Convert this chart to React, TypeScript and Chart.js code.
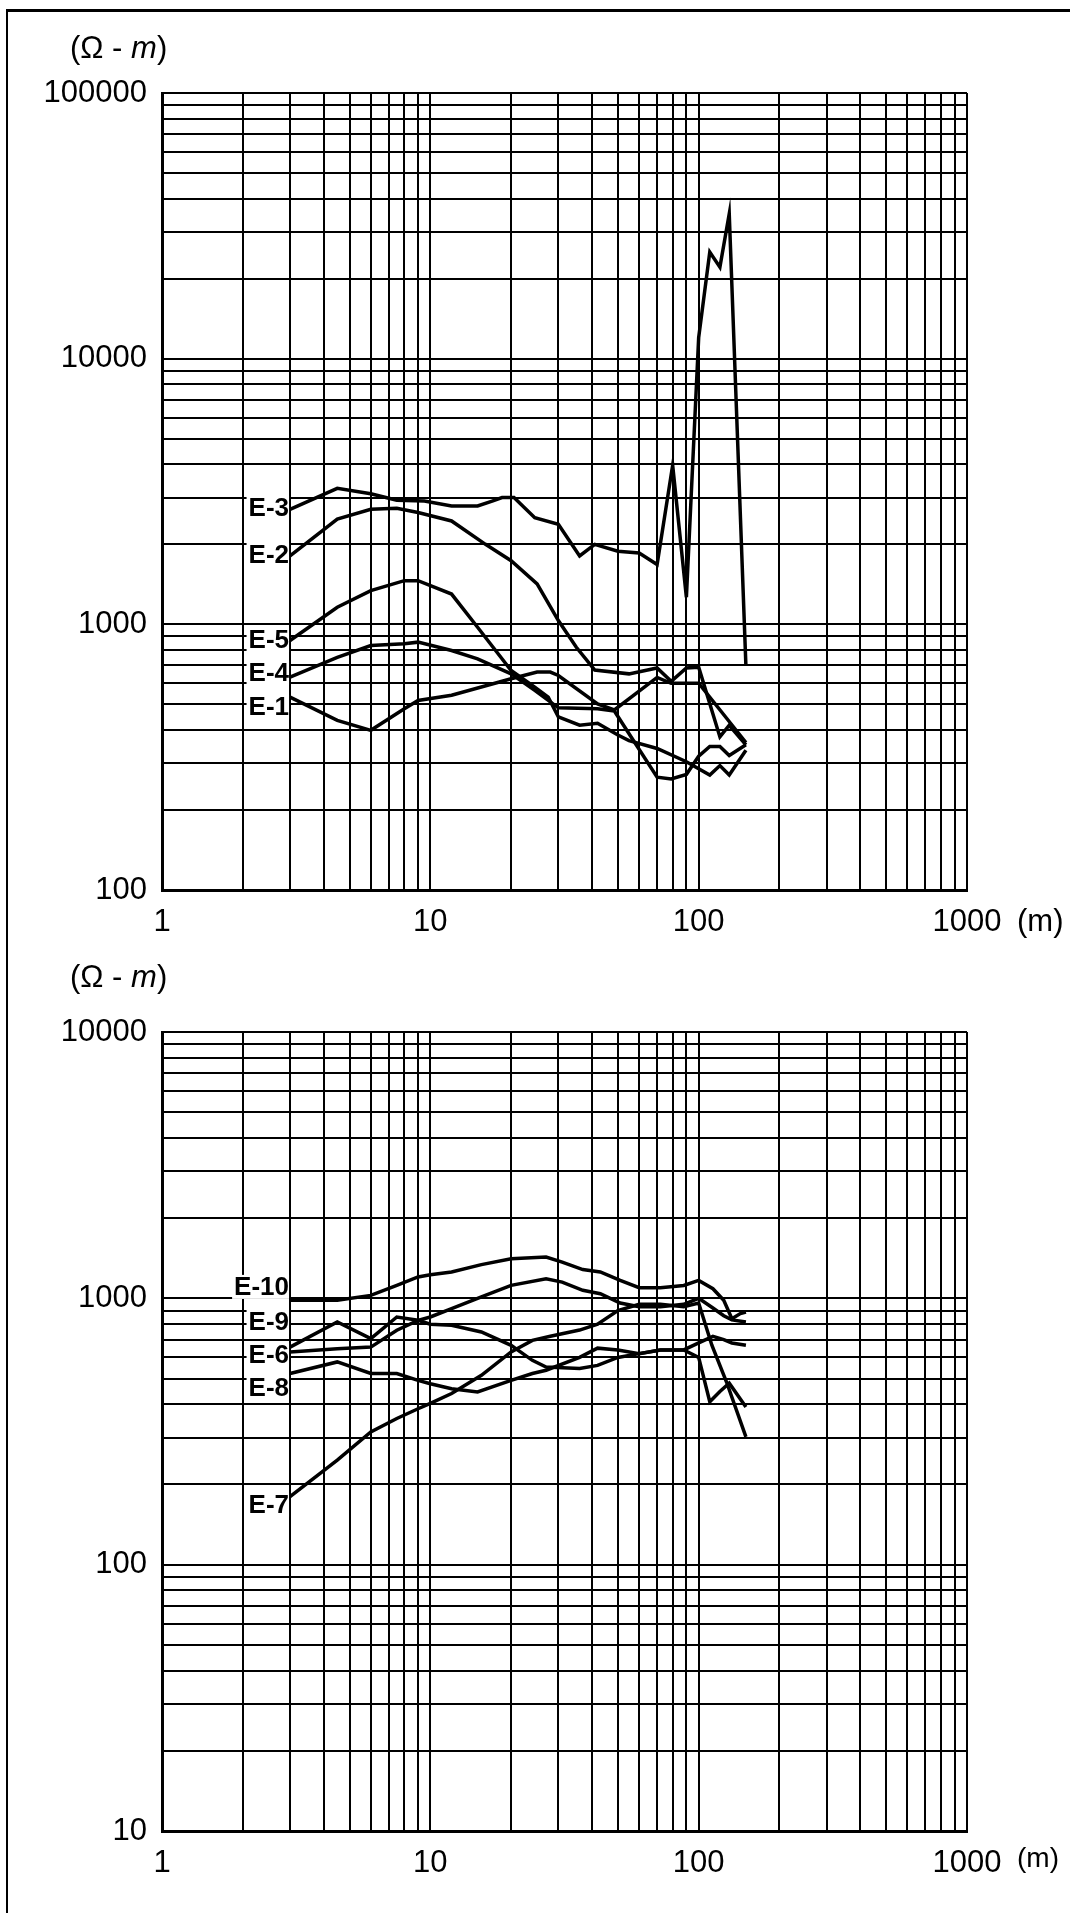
import React, { useEffect, useRef } from "react";
import { Chart, registerables } from "chart.js";

Chart.register(...registerables);

const FONT = "'Liberation Sans', Arial, Helvetica, sans-serif";

// ---------- axis ticks ----------
const xGrid = [1, 2, 3, 4, 5, 6, 7, 8, 9, 10, 20, 30, 40, 50, 60, 70, 80, 90, 100, 200, 300, 400, 500, 600, 700, 800, 900, 1000];
const xLabels = [1, 10, 100, 1000];
const yGridTop = [100, 200, 300, 400, 500, 600, 700, 800, 900, 1000, 2000, 3000, 4000, 5000, 6000, 7000, 8000, 9000, 10000, 20000, 30000, 40000, 50000, 60000, 70000, 80000, 90000, 100000];
const yLabelsTop = [100, 1000, 10000, 100000];
const yGridBottom = [10, 20, 30, 40, 50, 60, 70, 80, 90, 100, 200, 300, 400, 500, 600, 700, 800, 900, 1000, 2000, 3000, 4000, 5000, 6000, 7000, 8000, 9000, 10000];
const yLabelsBottom = [10, 100, 1000, 10000];

// ---------- top chart series (depth m, resistivity ohm-m) ----------
const e3X = [3, 4.5, 6, 7.5, 9.5, 12, 15, 17, 18.5, 20.5, 24.5, 30, 36, 41, 50, 60, 70, 80, 90, 100, 110, 120, 130, 150];
const e3Y = [2710, 3250, 3100, 2930, 2910, 2790, 2790, 2910, 3000, 3000, 2520, 2380, 1810, 2000, 1885, 1855, 1680, 3970, 1265, 12000, 25200, 22100, 35100, 697];
const e2X = [3, 4.5, 6, 7.5, 9, 12, 16, 20, 25, 30, 35, 41, 55, 70, 79, 90, 100, 120, 130, 150];
const e2Y = [1810, 2490, 2710, 2735, 2635, 2450, 2005, 1735, 1420, 1033, 820, 673, 651, 685, 610, 685, 690, 377, 417, 352];
const e5X = [3, 4.5, 6, 8, 9, 12, 15, 20, 24.5, 27.5, 30, 36, 42, 50, 55, 70, 90, 110, 120, 130, 150];
const e5Y = [869, 1160, 1340, 1460, 1460, 1300, 975, 670, 580, 532, 448, 417, 424, 383, 365, 341, 304, 271, 294, 271, 336];
const e4X = [3, 4.5, 6, 8, 9, 12, 15, 20, 24.5, 30, 42, 48.5, 70, 79, 90, 100, 110, 120, 130, 150];
const e4Y = [633, 751, 832, 845, 857, 797, 741, 651, 564, 485, 481, 472, 266, 262, 272, 319, 347, 347, 321, 352];
const e1X = [3, 4.5, 6, 8, 9, 12, 20, 25, 28, 30, 42, 48.5, 70, 79, 100, 150];
const e1Y = [532, 435, 399, 481, 517, 541, 624, 661, 661, 642, 502, 476, 631, 600, 600, 359];

// ---------- bottom chart series ----------
const e10X = [3, 4.5, 6, 7.5, 9, 10, 12, 15.5, 20, 27, 31, 37, 43, 51, 60, 72, 88, 100, 113, 124, 133, 143, 150];
const e10Y = [983, 983, 1026, 1118, 1203, 1227, 1256, 1338, 1409, 1429, 1368, 1282, 1256, 1168, 1096, 1096, 1118, 1168, 1087, 983, 839, 877, 889];
const e9X = [3, 4.5, 6, 7.5, 9, 10, 12, 15.5, 20, 27, 31, 37, 43, 51, 60, 72, 88, 100, 113, 124, 133, 150];
const e9Y = [629, 647, 656, 759, 827, 851, 915, 1012, 1119, 1185, 1151, 1072, 1041, 960, 930, 930, 950, 1000, 920, 860, 830, 815];
const e6X = [3, 4.5, 6, 7.5, 9, 10, 12, 15.5, 20, 24, 27, 36, 42, 50, 60, 72, 88, 100, 113, 124, 133, 150];
const e6Y = [656, 815, 706, 851, 827, 800, 792, 748, 666, 585, 552, 545, 560, 600, 620, 640, 640, 680, 720, 700, 680, 667];
const e8X = [3, 4.5, 6, 7.5, 9, 10, 12, 15, 20, 24, 27, 36, 42, 50, 60, 72, 88, 100, 110, 120, 130, 150];
const e8Y = [522, 577, 522, 522, 492, 478, 458, 445, 492, 522, 537, 600, 650, 640, 620, 640, 640, 600, 409, 447, 480, 391];
const e7X = [3, 4.5, 6, 7.5, 9, 10, 12, 15.5, 20, 24, 28, 36, 42, 50, 60, 72, 88, 100, 112, 127, 150];
const e7Y = [180, 247, 315, 354, 385, 403, 439, 514, 629, 695, 720, 760, 800, 900, 950, 950, 930, 960, 667, 485, 302];

// series label anchors (text, value at x = 3)
const topNames = ["E-3", "E-2", "E-5", "E-4", "E-1"];
const topLabelAt = [2740, 1825, 873, 656, 489];
const bottomNames = ["E-10", "E-9", "E-6", "E-8", "E-7"];
const bottomLabelAt = [1104, 815, 614, 462, 168];
const labelDepth = 3;

type Series = { name: string; xs: number[]; ys: number[] };

const topSeries: Series[] = [
  { name: "E-3", xs: e3X, ys: e3Y },
  { name: "E-2", xs: e2X, ys: e2Y },
  { name: "E-5", xs: e5X, ys: e5Y },
  { name: "E-4", xs: e4X, ys: e4Y },
  { name: "E-1", xs: e1X, ys: e1Y },
];
const bottomSeries: Series[] = [
  { name: "E-10", xs: e10X, ys: e10Y },
  { name: "E-9", xs: e9X, ys: e9Y },
  { name: "E-6", xs: e6X, ys: e6Y },
  { name: "E-8", xs: e8X, ys: e8Y },
  { name: "E-7", xs: e7X, ys: e7Y },
];

function labelPlugin(names: string[], values: number[], unitSize: number, unitDy: number) {
  return {
    id: "seriesLabels",
    afterDatasetsDraw(chart: any) {
      const ctx = chart.ctx;
      const xs = chart.scales.x;
      const ys = chart.scales.y;
      ctx.save();
      ctx.font = `bold 26px ${FONT}`;
      ctx.textAlign = "right";
      ctx.textBaseline = "middle";
      names.forEach((n, i) => {
        const px = xs.getPixelForValue(labelDepth) - 1;
        const py = ys.getPixelForValue(values[i]);
        const w = ctx.measureText(n).width;
        ctx.fillStyle = "#fff";
        ctx.fillRect(px - w - 2, py - 12, w + 2, 24);
        ctx.fillStyle = "#000";
        ctx.fillText(n, px, py + 1);
      });
      // unit label after the last x tick
      ctx.font = `${unitSize}px ${FONT}`;
      ctx.textAlign = "left";
      const ux = xs.getPixelForValue(1000) + 50;
      ctx.fillText("(m)", ux, xs.top + 32 + unitDy);
      ctx.restore();
    },
  };
}

function makeConfig(series: Series[], yGrid: number[], yLabels: number[], yMin: number, yMax: number,
  padTop: number, xHeight: number, names: string[], labelVals: number[], unitSize: number, unitDy: number): any {
  return {
    type: "line",
    data: {
      datasets: series.map((s) => ({
        label: s.name,
        data: s.xs.map((x, i) => ({ x, y: s.ys[i] })),
        borderColor: "#000",
        borderWidth: 3.5,
        pointRadius: 0,
        fill: false,
        tension: 0,
      })),
    },
    options: {
      animation: false,
      responsive: false,
      maintainAspectRatio: false,
      layout: { padding: { left: 0, top: padTop, right: 103, bottom: 0 } },
      plugins: { legend: { display: false }, tooltip: { enabled: false }, title: { display: false } },
      scales: {
        x: {
          type: "logarithmic",
          min: 1,
          max: 1000,
          afterBuildTicks: (s: any) => { s.ticks = xGrid.map((v) => ({ value: v })); },
          afterFit: (s: any) => { s.height = xHeight; },
          ticks: {
            autoSkip: false,
            maxRotation: 0,
            padding: 14,
            color: "#000",
            font: { family: FONT, size: 31 },
            callback: (v: any) => (xLabels.includes(Number(v)) ? String(v) : ""),
          },
          grid: { color: "#000", lineWidth: 2, drawTicks: false },
          border: { color: "#000", width: 3 },
        },
        y: {
          type: "logarithmic",
          min: yMin,
          max: yMax,
          afterBuildTicks: (s: any) => { s.ticks = yGrid.map((v) => ({ value: v })); },
          afterFit: (s: any) => { s.width = 162; },
          ticks: {
            autoSkip: false,
            padding: 15,
            color: "#000",
            font: { family: FONT, size: 31 },
            callback: (v: any) => (yLabels.includes(Number(v)) ? String(v) : ""),
          },
          grid: { color: "#000", lineWidth: 2, drawTicks: false },
          border: { color: "#000", width: 3 },
        },
      },
    },
    plugins: [labelPlugin(names, labelVals, unitSize, unitDy)],
  };
}

function ChartCanvas(props: { config: any; top: number; height: number }) {
  const ref = useRef<HTMLCanvasElement | null>(null);
  useEffect(() => {
    if (!ref.current) return;
    const c = new Chart(ref.current, props.config);
    return () => c.destroy();
  }, []);
  return (
    <canvas
      ref={ref}
      width={1070}
      height={props.height}
      style={{ position: "absolute", left: 0, top: props.top, width: 1070, height: props.height }}
    />
  );
}

const unitStyle: React.CSSProperties = {
  position: "absolute",
  left: 70,
  fontFamily: FONT,
  fontSize: 31,
  lineHeight: "36px",
  color: "#000",
  whiteSpace: "nowrap",
};

export default function App() {
  const topCfg = makeConfig(topSeries, yGridTop, yLabelsTop, 100, 100000, 93, 70, topNames, topLabelAt, 31, 0);
  const botCfg = makeConfig(bottomSeries, yGridBottom, yLabelsBottom, 10, 10000, 72, 82, bottomNames, bottomLabelAt, 28, -4);
  return (
    <div style={{ position: "absolute", left: 0, top: 0, width: 1070, height: 1913, background: "#fff", overflow: "hidden" }}>
      <div style={{ position: "absolute", left: 6, top: 9, width: 1070, height: 1913, borderLeft: "2px solid #000", borderTop: "3px solid #000" }} />
      <ChartCanvas config={topCfg} top={0} height={960} />
      <ChartCanvas config={botCfg} top={960} height={953} />
      <div style={{ ...unitStyle, top: 30 }}>(Ω - <i>m</i>)</div>
      <div style={{ ...unitStyle, top: 959 }}>(Ω - <i>m</i>)</div>
    </div>
  );
}
